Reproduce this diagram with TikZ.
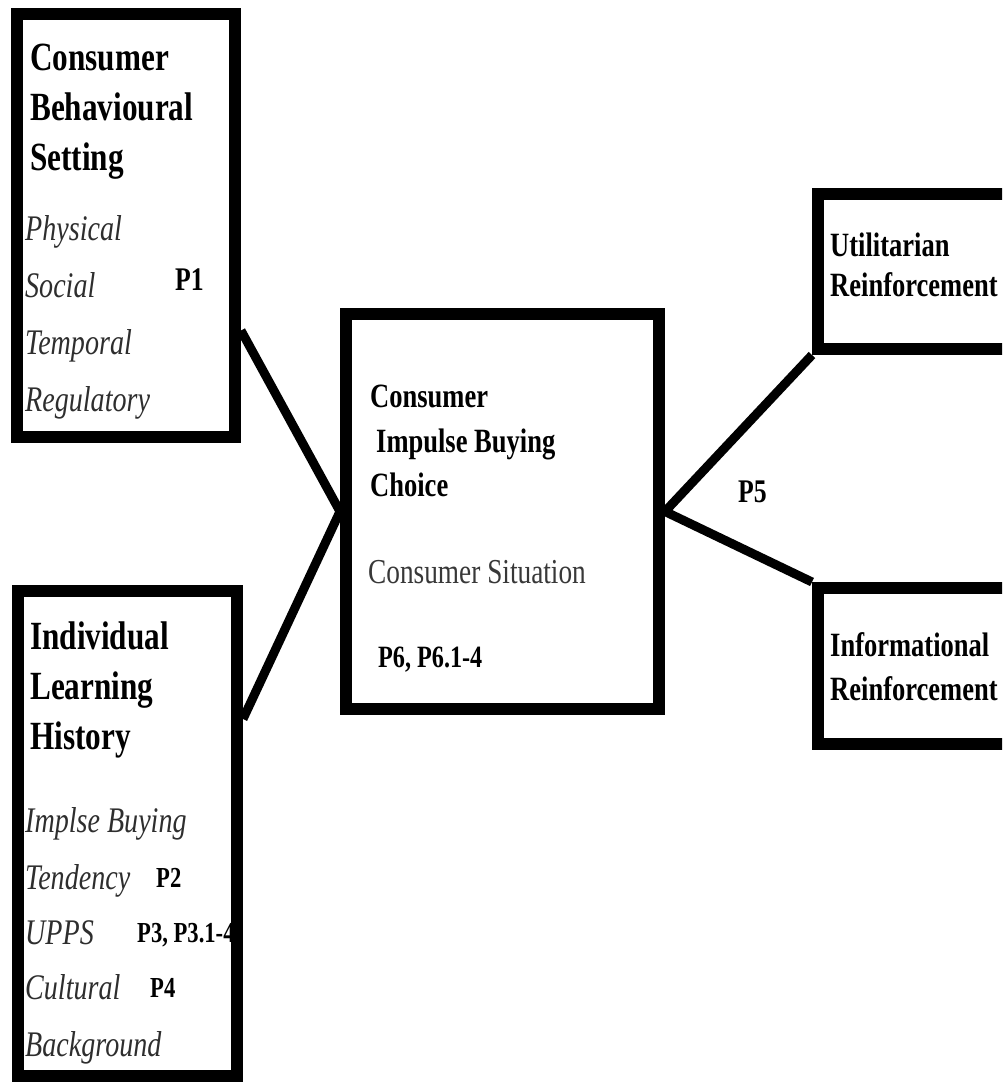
\documentclass[tikz,border=0pt]{standalone}
\usepackage{fontspec}
\setmainfont{Liberation Serif}[FakeStretch=0.78]

\begin{document}
\begin{tikzpicture}[x=1pt, y=-1pt,
   box/.style={draw, line width=12pt, inner sep=0pt},
   link/.style={line width=9pt},
   head/.style={anchor=base west, inner sep=0pt, font=\fontsize{40}{40}\selectfont\bfseries},
   subhead/.style={anchor=base west, inner sep=0pt, font=\fontsize{34}{34}\selectfont\bfseries},
   tag/.style={anchor=base west, inner sep=0pt, font=\fontsize{33}{33}\selectfont\bfseries},
   smalltag/.style={anchor=base west, inner sep=0pt, font=\fontsize{29}{29}\selectfont\bfseries},
   item/.style={anchor=base west, inner sep=0pt, text=black!82, font=\fontsize{36}{36}\selectfont\itshape},
   situation/.style={anchor=base west, inner sep=0pt, text=black!78, font=\fontsize{35}{35}\selectfont}]
   \useasboundingbox (0,0) rectangle (1002,1084);
   \clip (0,0) rectangle (1002,1084);
   \node (setting) at (126,225.5) [box, minimum width=218pt, minimum height=423pt] {};
   \node (history) at (127.5,833) [box, minimum width=219pt, minimum height=485pt] {};
   \node (choice) at (502.5,511.5) [box, minimum width=313pt, minimum height=395pt] {};
   \node (util) at (929,271.5) [box, minimum width=222pt, minimum height=155pt] {};
   \node (info) at (929,666) [box, minimum width=222pt, minimum height=156pt] {};
   \node (cbs1) at (30,70) [head] {Consumer};
   \node (cbs2) at (30,120) [head] {Behavioural};
   \node (cbs3) at (30,170) [head] {Setting};
   \node (phys) at (25,240) [item] {Physical};
   \node (soc) at (25,297) [item] {Social};
   \node (temp) at (25,354) [item] {Temporal};
   \node (reg) at (25,411) [item] {Regulatory};
   \node (p1) at (175,290) [tag] {P1};
   \node (ilh1) at (30,649) [head] {Individual};
   \node (ilh2) at (30,699) [head] {Learning};
   \node (ilh3) at (30,749) [head] {History};
   \node (ibt1) at (25,832) [item] {Implse Buying};
   \node (ibt2) at (25,889) [item] {Tendency};
   \node (upps) at (25,944) [item] {UPPS};
   \node (cult1) at (25,999) [item] {Cultural};
   \node (cult2) at (25,1056) [item] {Background};
   \node (p2) at (156,887) [smalltag] {P2};
   \node (p3) at (137,942) [smalltag] {P3, P3.1-4};
   \node (p4) at (150,997) [smalltag] {P4};
   \node (cib1) at (370,407) [subhead] {Consumer};
   \node (cib2) at (376,452) [subhead] {Impulse Buying};
   \node (cib3) at (370,496) [subhead] {Choice};
   \node (sit) at (368,583) [situation] {Consumer Situation};
   \node (p6) at (378,667) [tag, font=\fontsize{31}{31}\selectfont\bfseries] {P6, P6.1-4};
   \node (ur1) at (830,256) [subhead] {Utilitarian};
   \node (ur2) at (830,296) [subhead] {Reinforcement};
   \node (ir1) at (830,656) [subhead] {Informational};
   \node (ir2) at (830,700) [subhead] {Reinforcement};
   \node (p5) at (738,502) [tag] {P5};
   \draw [link] ([yshift=-105pt]setting.east) -- (choice.west);
   \draw [link] ([yshift=114pt]history.east) -- (choice.west);
   \draw [link] (choice.east) -- (util.south west);
   \draw [link] (choice.east) -- (info.north west);
\end{tikzpicture}
\end{document}
